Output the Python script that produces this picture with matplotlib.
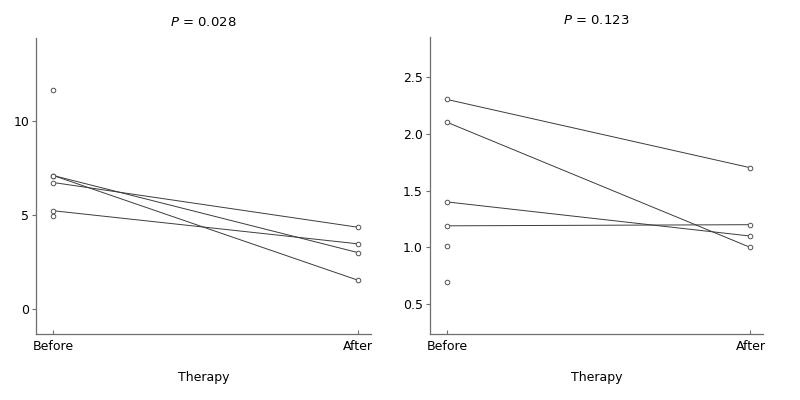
import matplotlib
matplotlib.use("Agg")
import matplotlib.pyplot as plt

# data
groups = ["Before", "After"]

# left panel (P = 0.028)
left_pairs_before = [6.72, 7.09, 7.09, 5.22]
left_pairs_after = [4.34, 2.99, 1.52, 3.46]
left_single_before = [11.65, 4.96]
left_p = "0.028"

# right panel (P = 0.123)
right_pairs_before = [2.30, 2.10, 1.40, 1.19]
right_pairs_after = [1.70, 1.00, 1.10, 1.20]
right_single_before = [1.01, 0.70]
right_p = "0.123"

line_col = "#3c3c3c"
mark_col = "#505050"
spine_col = "#6e6e6e"

plt.rcParams["font.family"] = "DejaVu Sans"
plt.rcParams["font.size"] = 9

fig = plt.figure(figsize=(8, 4), dpi=100)
ax1 = fig.add_axes([0.045, 0.165, 0.419, 0.74])
ax2 = fig.add_axes([0.537, 0.165, 0.417, 0.743])


def draw_panel(ax, before, after, single, p, ylim, yticks, yfmt):
    for b, a in zip(before, after):
        ax.plot([0, 1], [b, a], color=line_col, lw=0.7, zorder=2)
    # open circles
    ax.plot([0] * len(before), before, 'o', ms=3.3, mfc="white", mec=mark_col, mew=0.7, zorder=3)
    ax.plot([1] * len(after), after, 'o', ms=3.3, mfc="white", mec=mark_col, mew=0.7, zorder=3)
    ax.plot([0] * len(single), single, 'o', ms=3.3, mfc="white", mec=mark_col, mew=0.7, zorder=3)

    ax.set_xlim(-0.057, 1.042)
    ax.set_ylim(*ylim)
    ax.set_xticks([0, 1])
    ax.set_xticklabels(groups)
    ax.set_yticks(yticks)
    ax.set_yticklabels([yfmt.format(v) for v in yticks])

    for s in ["top", "right"]:
        ax.spines[s].set_visible(False)
    for s in ["left", "bottom"]:
        ax.spines[s].set_color(spine_col)
        ax.spines[s].set_linewidth(0.9)

    ax.tick_params(axis="y", direction="out", length=3, width=0.8, color=spine_col, pad=2)
    ax.tick_params(axis="x", direction="in", length=3, width=0.8, color=spine_col, pad=4.5)

    ax.set_xlabel("Therapy", labelpad=13)
    ax.set_title(r"$\it{P}$ = " + p, pad=9, fontsize=9.5)


draw_panel(ax1, left_pairs_before, left_pairs_after, left_single_before, left_p,
           (-1.33, 14.4), [0, 5, 10], "{:g}")
draw_panel(ax2, right_pairs_before, right_pairs_after, right_single_before, right_p,
           (0.24, 2.85), [0.5, 1.0, 1.5, 2.0, 2.5], "{:.1f}")

fig.savefig("out.png", dpi=100)
